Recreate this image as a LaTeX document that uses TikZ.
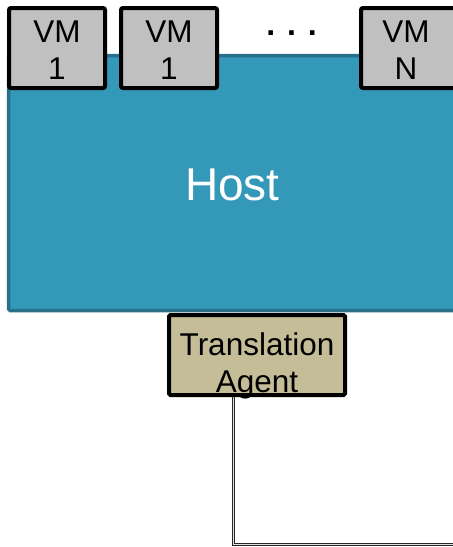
\documentclass[tikz,border=0pt]{standalone}
\usepackage{fontspec}
\setmainfont{Liberation Sans}
\definecolor{hostfill}{RGB}{52,152,185}
\definecolor{hostedge}{RGB}{40,112,138}
\definecolor{vmfill}{RGB}{192,192,192}
\definecolor{agentfill}{RGB}{196,189,151}
\tikzset{
  x=1pt, y=1pt,
  hostbox/.style={draw=hostedge, fill=hostfill, line width=3.5pt, rounded corners=1.5pt,
    minimum width=461.5pt, minimum height=255pt, inner sep=0pt},
  vmbox/.style={draw=black, fill=vmfill, line width=4pt, rounded corners=2pt,
    minimum width=96pt, minimum height=80pt, inner sep=0pt},
  agentbox/.style={draw=black, fill=agentfill, line width=4pt, rounded corners=1.5pt,
    minimum width=176pt, minimum height=80pt, inner sep=0pt},
  lbl/.style={font=\fontsize{31.5}{37}\selectfont, align=center, inner sep=0pt, anchor=base},
  hostlbl/.style={font=\fontsize{46}{50}\selectfont, text=white, inner sep=0pt, anchor=base},
  conn/.style={draw=black!85, line width=0.9pt, double=black!12, double distance=1.4pt}
}
\begin{document}
\begin{tikzpicture}
\useasboundingbox (0,0) rectangle (453,-547);
% host
\node[hostbox] (host) at (239.25,-183) {};
\node[hostlbl] (hostlabel) at (232.5,-200) {Host};
% VMs
\node[vmbox] (vm1) at (57,-48) {};
\node[vmbox] (vm2) at (169,-48) {};
\node[vmbox] (vmn) at (409,-48) {};
\node[lbl] (vm1a) at (vm1.center) [yshift=6pt] {VM};
\node[lbl] (vm1b) at (vm1.center) [yshift=-31pt] {1};
\node[lbl] (vm2a) at (vm2.center) [yshift=6pt] {VM};
\node[lbl] (vm2b) at (vm2.center) [yshift=-31pt] {1};
\node[lbl] (vmna) at (vmn.center) [xshift=-3pt, yshift=6pt] {VM};
\node[lbl] (vmnb) at (vmn.center) [xshift=-3pt, yshift=-31pt] {N};
\node[lbl, font=\fontsize{32}{37}\selectfont\bfseries] (dots) at (291.5,-35) {. . .};
% connector
\coordinate (tap) at (233.5,-350);
\coordinate (far) at (470,-544.5);
\draw[conn] (tap) |- (far);
% agent
\node[agentbox] (agent) at (257,-355) {};
\node[lbl] (agentlabel) at (257,-392) {Translation\\Agent};
\end{tikzpicture}
\end{document}
